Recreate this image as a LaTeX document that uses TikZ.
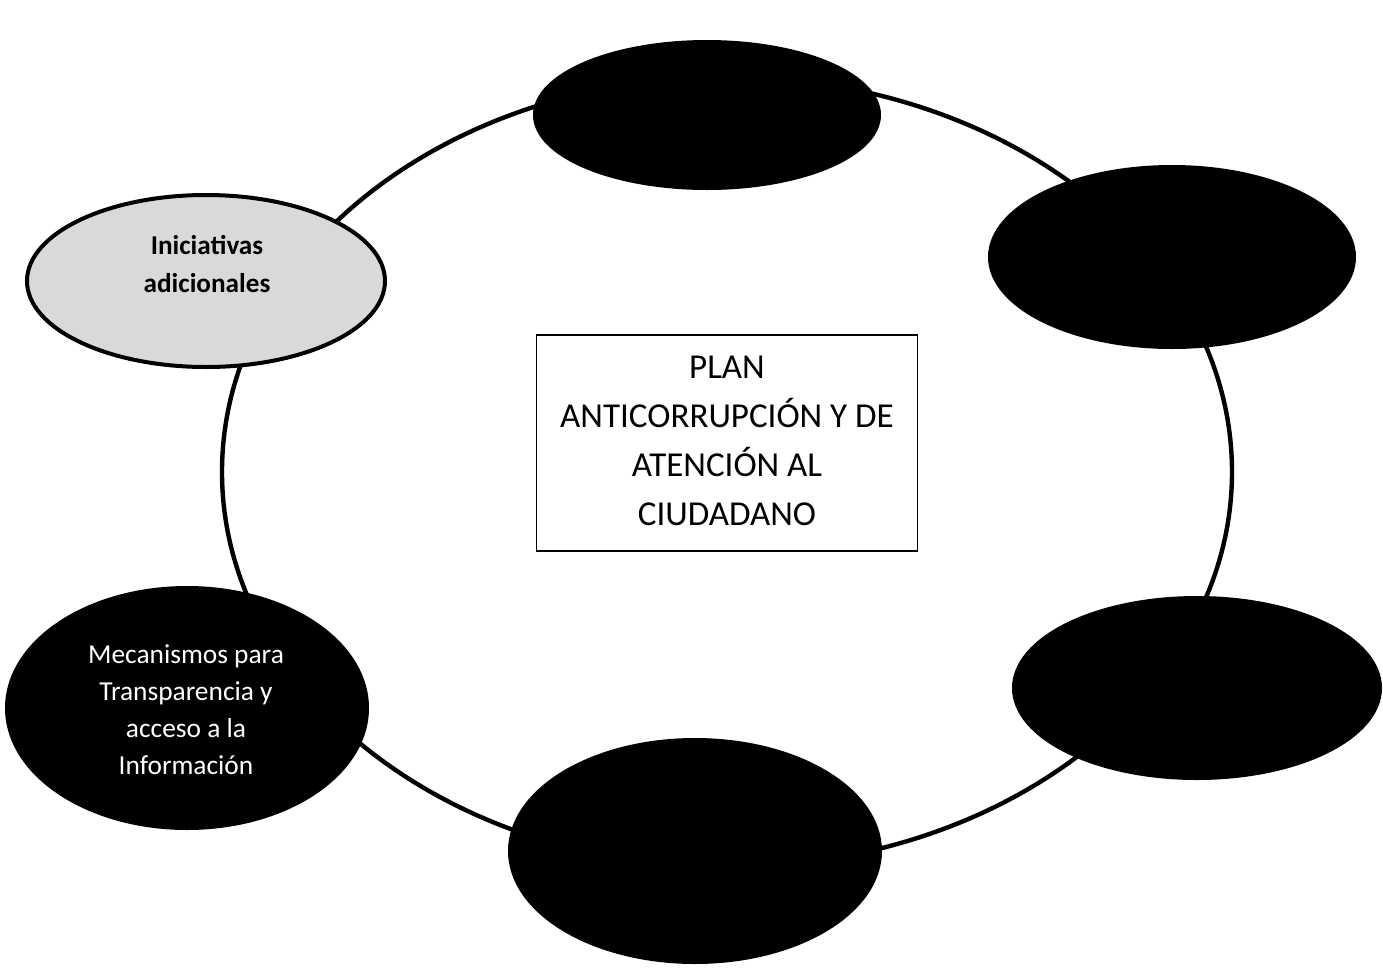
\documentclass[tikz,border=0pt]{standalone}
\usepackage{fontspec}
\setmainfont{Carlito}
\usetikzlibrary{shapes.geometric}
\usetikzlibrary{positioning}

\begin{document}
\begin{tikzpicture}[x=0.5pt,y=-0.5pt,
  black oval/.style={ellipse,draw=black,fill=black,line width=2pt,inner sep=0.,outer sep=0.},
  grey oval/.style={ellipse,draw=black,fill=black!15,line width=2pt,inner sep=0.,outer sep=0.},
  oval text/.style={align=center,font=\fontsize{13.7}{18.5}\selectfont},
  main box/.style={rectangle,draw,line width=0.9pt,inner sep=0.,outer sep=0.,minimum width=190.5pt,minimum height=108pt}]%
  \useasboundingbox (0., 0.) rectangle (1383., 970.);
  \draw[line width=2.2pt] (727., 472.) ellipse (252.5pt and 197.5pt);
  \node[main box] (plan) at (727., 443.) {};
  \node[align=center,font=\fontsize{17.5}{24.5}\selectfont] (plantxt) at (727., 441.)
    {PLAN\\ANTICORRUPCIÓN Y DE\\ATENCIÓN AL\\CIUDADANO};
  \node[black oval,minimum width=172pt,minimum height=73pt] (top) at (707., 115.) {};
  \node[black oval,minimum width=182pt,minimum height=90pt] (topright) at (1172., 257.) {};
  \node[black oval,minimum width=183pt,minimum height=90pt] (lowright) at (1197., 688.) {};
  \node[black oval,minimum width=185pt,minimum height=111pt] (bottom) at (695., 851.) {};
  \node[black oval,minimum width=180pt,minimum height=120pt] (lowleft) at (187., 708.) {};
  \node[oval text,text=white] (lowlefttxt) at (186., 710.)
    {Mecanismos para\\Transparencia y\\acceso a la\\Información};
  \node[grey oval,minimum width=179pt,minimum height=86pt] (topleft) at (206., 281.) {};
  \node[oval text,font=\fontsize{13.6}{19}\selectfont\bfseries] (toplefttxt) at (207., 264.)
    {Iniciativas\\adicionales};
\end{tikzpicture}
\end{document}
